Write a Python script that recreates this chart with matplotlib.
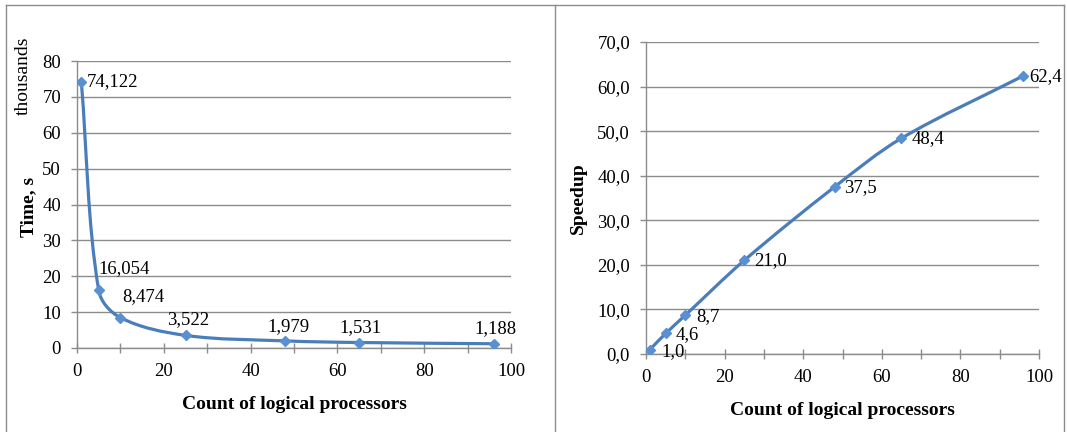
import matplotlib
matplotlib.use("Agg")
import matplotlib.pyplot as plt
import numpy as np
from matplotlib.path import Path
from matplotlib.patches import PathPatch
from matplotlib.lines import Line2D
from matplotlib.ticker import MultipleLocator, FuncFormatter

plt.rcParams['font.family'] = ['Liberation Serif', 'DejaVu Serif']

# data
procs = [1, 5, 10, 25, 48, 65, 96]
time_k = [74.122, 16.054, 8.474, 3.522, 1.979, 1.531, 1.188]
time_labels = ['74,122', '16,054', '8,474', '3,522', '1,979', '1,531', '1,188']
speedup = [1.0, 4.6, 8.7, 21.0, 37.5, 48.4, 62.4]
speedup_labels = ['1,0', '4,6', '8,7', '21,0', '37,5', '48,4', '62,4']

LINE = '#4a7ebb'
MARK = '#5a8fd2'
GRID = '#8c8c8c'
FS = 13.5


def smooth_path(ax, xs, ys):
    # excel-like smoothed line, control points worked out in screen space
    p = ax.transData.transform(np.column_stack([xs, ys]).astype(float))
    n = len(p)
    tang = []
    for i in range(n):
        d = p[min(i + 1, n - 1)] - p[max(i - 1, 0)]
        tang.append(d / np.hypot(*d))
    verts = [p[0]]
    codes = [Path.MOVETO]
    for i in range(n - 1):
        seg = np.hypot(*(p[i + 1] - p[i])) / 3.0
        verts += [p[i] + tang[i] * seg, p[i + 1] - tang[i + 1] * seg, p[i + 1]]
        codes += [Path.CURVE4] * 3
    verts = ax.transData.inverted().transform(np.array(verts))
    return Path(verts, codes)


def style_axes(ax, ymax):
    ax.set_xlim(0, 100)
    ax.set_ylim(0, ymax)
    ax.xaxis.set_major_locator(MultipleLocator(20))
    ax.xaxis.set_minor_locator(MultipleLocator(10))
    ax.yaxis.set_major_locator(MultipleLocator(10))
    ax.grid(axis='y', color=GRID, lw=1.0)
    ax.set_axisbelow(True)
    for s in ['top', 'right']:
        ax.spines[s].set_visible(False)
    for s in ['left', 'bottom']:
        ax.spines[s].set_color(GRID)
        ax.spines[s].set_linewidth(1.0)
    ax.tick_params(axis='x', which='both', direction='inout', length=7,
                   color=GRID, width=1.0, labelsize=FS, pad=7)
    ax.tick_params(axis='y', direction='out', length=4.5, color=GRID,
                   width=1.0, labelsize=FS, pad=7)
    ax.set_xlabel('Count of logical processors', fontsize=14,
                  fontweight='bold', labelpad=12)


fig = plt.figure(figsize=(10.67, 4.32), dpi=100)

# panel frames
frame = dict(color='#8c8c8c', lw=1.0, transform=fig.transFigure)
W, H = 1067.0, 432.0
fig.add_artist(Line2D([6 / W, 1064 / W], [1 - 5 / H, 1 - 5 / H], **frame))
for xp in [6, 555, 1064]:
    fig.add_artist(Line2D([xp / W, xp / W], [0, 1 - 5 / H], **frame))

# left: time
ax1 = fig.add_axes([77 / W, 1 - 348 / H, 434 / W, 287 / H])
style_axes(ax1, 80)
ax1.add_patch(PathPatch(smooth_path(ax1, procs, time_k), fill=False,
                        edgecolor=LINE, lw=2.3, zorder=3))
ax1.plot(procs, time_k, ls='none', marker='D', ms=5, color=MARK,
         mec=MARK, zorder=4)
left_offs = [(4, 0, 'left', 'center'), (0, 16, 'left', 'center'),
             (1.5, 15, 'left', 'center'), (2, 11.5, 'center', 'center'),
             (2, 10.5, 'center', 'center'), (1, 11, 'center', 'center'),
             (1, 11, 'center', 'center')]
for x, y, t, (dx, dy, ha, va) in zip(procs, time_k, time_labels, left_offs):
    ax1.annotate(t, (x, y), xytext=(dx, dy), textcoords='offset points',
                 ha=ha, va=va, fontsize=FS)
ax1.set_ylabel('Time, s', fontsize=14, fontweight='bold')
ax1.yaxis.set_label_coords((37 - 77) / 434, 0.49)
fig.text(23 / W, 1 - 76 / H, 'thousands', rotation=90, ha='center',
         va='center', fontsize=14)

# right: speedup
ax2 = fig.add_axes([646 / W, 1 - 354 / H, 393 / W, 312 / H])
style_axes(ax2, 70)
ax2.yaxis.set_major_formatter(FuncFormatter(lambda v, p: f'{v:.1f}'.replace('.', ',')))
ax2.add_patch(PathPatch(smooth_path(ax2, procs, speedup), fill=False,
                        edgecolor=LINE, lw=2.3, zorder=3))
ax2.plot(procs, speedup, ls='none', marker='D', ms=5, color=MARK,
         mec=MARK, zorder=4)
right_offs = [(8.5, -1.5), (7, -1), (8, -1), (7, 0), (7, -0.5), (7, 0), (4, -0.5)]
for x, y, t, (dx, dy) in zip(procs, speedup, speedup_labels, right_offs):
    ax2.annotate(t, (x, y), xytext=(dx, dy), textcoords='offset points',
                 ha='left', va='center', fontsize=FS)
ax2.set_ylabel('Speedup', fontsize=14, fontweight='bold')
ax2.yaxis.set_label_coords((587 - 646) / 393, 0.5)

fig.savefig('out.png', dpi=100)
